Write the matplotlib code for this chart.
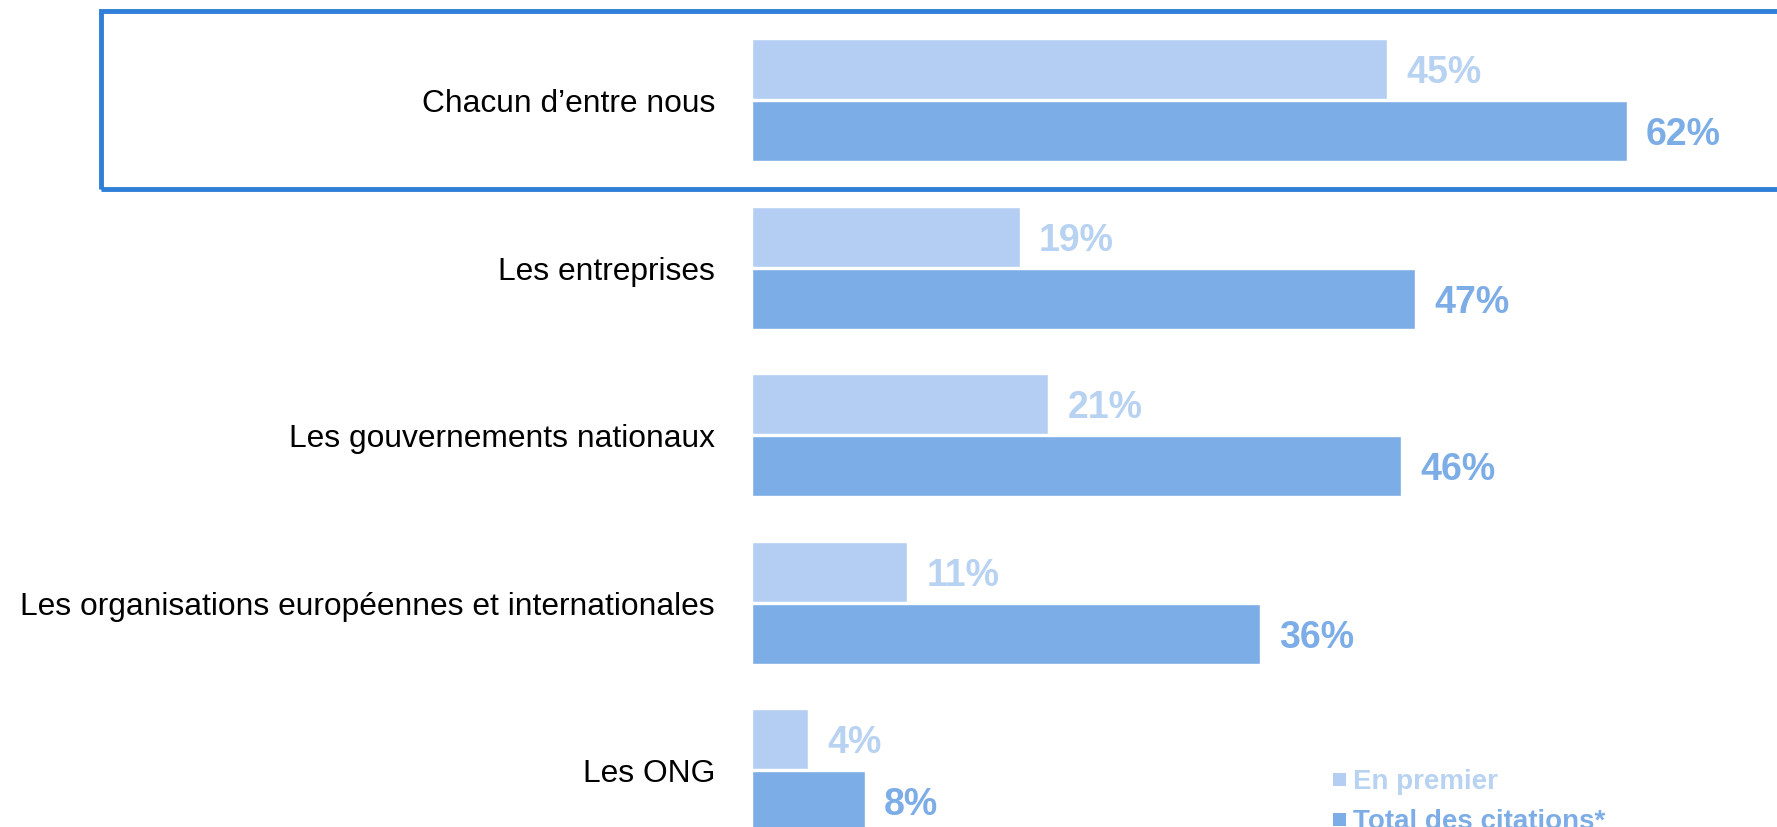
import matplotlib
matplotlib.use('Agg')
import matplotlib.pyplot as plt
from matplotlib.patches import Rectangle

categories = ['Chacun d\u2019entre nous', 'Les entreprises', 'Les gouvernements nationaux',
              'Les organisations europ\u00e9ennes et internationales', 'Les ONG']
en_premier = [45, 19, 21, 11, 4]
total_citations = [62, 47, 46, 36, 8]
legend_labels = ['En premier', 'Total des citations*']

light = '#B3CEF2'
dark = '#7DADE6'
light_txt = '#B8D2F2'

plt.rcParams['font.family'] = ['Liberation Sans', 'DejaVu Sans']

W, H = 1777, 828
fig = plt.figure(figsize=(W / 100, H / 100), dpi=100)
ax = fig.add_axes([0, 0, 1, 1])
ax.axis('off')

# pixel mapping: 0% at x=752px, 14.11 px per %; group i centred at 101 + 167.6*i px
ppu = 14.11
x0 = 752
gap = 167.6
y0 = 101
ax.set_xlim(-x0 / ppu, (W - x0) / ppu)
ax.set_ylim((H - y0) / gap, -y0 / gap)

h = 60 / gap
off = 31 / gap
dy = 3 / gap  # small text nudge
ys = list(range(len(categories)))
ax.barh([y - off for y in ys], en_premier, height=h, color=light, edgecolor='white', linewidth=1)
ax.barh([y + off for y in ys], total_citations, height=h, color=dark, edgecolor='white', linewidth=1)

for i, cat in enumerate(categories):
    ax.text(-37 / ppu, i + dy, cat, ha='right', va='center', fontsize=22.9, color='black')
    ax.text(en_premier[i] + 19 / ppu, i - off + dy, f'{en_premier[i]}%', ha='left', va='center',
            fontsize=27, fontweight='bold', color=light_txt)
    ax.text(total_citations[i] + 19 / ppu, i + off + dy, f'{total_citations[i]}%', ha='left', va='center',
            fontsize=27, fontweight='bold', color=dark)

# highlight box around first category
fig.patches.append(Rectangle((101 / W, (H - 190) / H), 1.2, (190 - 12) / H, transform=fig.transFigure,
                             fill=False, edgecolor='#2F7ED8', linewidth=3.5, figure=fig))

# legend (second row is cut by the bottom edge, as in the original)
for k, (lab, c, tc) in enumerate(zip(legend_labels, [light, dark], [light_txt, dark])):
    base = 789 + 40 * k
    fig.patches.append(Rectangle((1333 / W, (H - base + 2) / H), 13 / W, 13 / H, transform=fig.transFigure,
                                 facecolor=c, edgecolor='none', figure=fig))
    fig.text(1353 / W, (H - base) / H, lab, ha='left', va='baseline', fontsize=20, fontweight='bold', color=tc)

fig.savefig('out.png', dpi=100)
